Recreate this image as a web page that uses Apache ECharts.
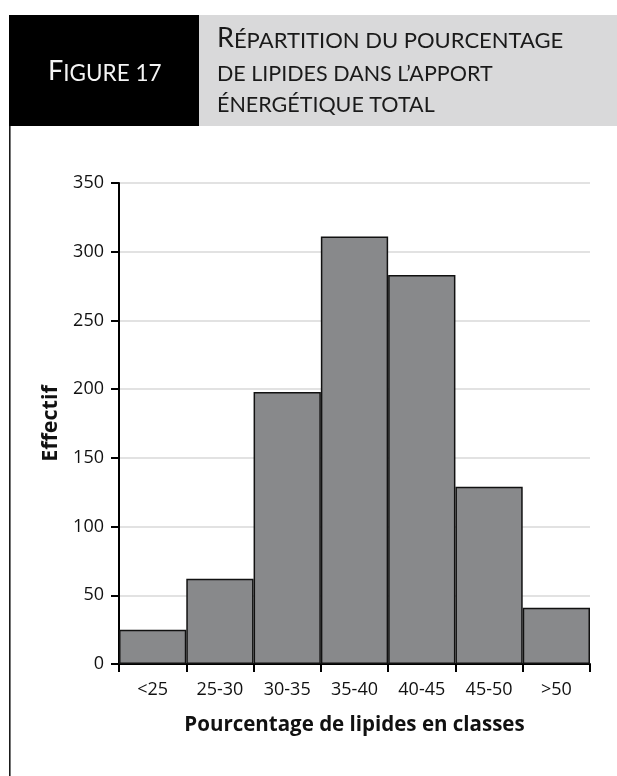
<!DOCTYPE html>
<html>
<head>
<meta charset="utf-8">
<script src="https://cdn.jsdelivr.net/npm/echarts@6/dist/echarts.min.js"></script>
<style>
html,body{margin:0;padding:0;background:#fff;}
#chart{width:617px;height:776px;}
</style>
</head>
<body>
<div id="chart"></div>
<script>
const categories = ['<25', '25-30', '30-35', '35-40', '40-45', '45-50', '>50'];
const effectif = [25, 62, 198, 311, 283, 129, 41];
const yTicks = { min: 0, max: 350, interval: 50 };
const xAxisName = 'Pourcentage de lipides en classes';
const yAxisName = 'Effectif';

const chart = echarts.init(document.getElementById('chart'), null, { renderer: 'canvas' });
const LBL = '"Open Sans", "DejaVu Sans", sans-serif';
const HEAD = 'Lato, "Open Sans", sans-serif';

chart.setOption({
  animation: false,
  backgroundColor: '#ffffff',
  graphic: [
    { type: 'rect', shape: { x: 9, y: 15, width: 190, height: 111 }, style: { fill: '#000000' }, silent: true },
    { type: 'rect', shape: { x: 199, y: 15, width: 418, height: 111 }, style: { fill: '#d9d9da' }, silent: true },
    { type: 'rect', shape: { x: 9, y: 126, width: 1.6, height: 650 }, style: { fill: '#1a1a1a' }, silent: true },
    {
      type: 'text', x: 48, y: 58, silent: true,
      style: {
        text: '{a|F}{b|IGURE 17}',
        fill: '#f4f4f4',
        rich: {
          a: { fontSize: 27, fontFamily: HEAD, fill: '#f4f4f4', color: '#f4f4f4', verticalAlign: 'bottom' },
          b: { fontSize: 22.5, fontFamily: HEAD, fill: '#f4f4f4', color: '#f4f4f4', verticalAlign: 'bottom' }
        }
      }
    },
    {
      type: 'text', x: 217, y: 25, silent: true,
      style: {
        text: '{a|R}{b|ÉPARTITION DU POURCENTAGE}',
        fill: '#1a1a1a',
        rich: {
          a: { fontSize: 27, fontFamily: HEAD, fill: '#1a1a1a', color: '#1a1a1a', verticalAlign: 'bottom' },
          b: { fontSize: 22, fontFamily: HEAD, fill: '#1a1a1a', color: '#1a1a1a', verticalAlign: 'bottom' }
        }
      }
    },
    {
      type: 'text', x: 217, y: 63, silent: true,
      style: { text: 'DE LIPIDES DANS L’APPORT', fill: '#1a1a1a', font: '21.5px ' + HEAD }
    },
    {
      type: 'text', x: 217, y: 94, silent: true,
      style: { text: 'ÉNERGÉTIQUE TOTAL', fill: '#1a1a1a', font: '21.5px ' + HEAD }
    }
  ],
  grid: { left: 119, right: 27, top: 183, bottom: 112, containLabel: false },
  xAxis: {
    type: 'category',
    data: categories,
    boundaryGap: true,
    name: xAxisName,
    nameLocation: 'middle',
    nameGap: 51,
    nameTextStyle: { fontFamily: LBL, fontSize: 20.5, fontWeight: 'bold', color: '#111' },
    axisLine: { show: true, lineStyle: { color: '#000', width: 2 } },
    axisTick: { show: true, alignWithLabel: false, inside: false, length: 8, lineStyle: { color: '#000', width: 2 } },
    axisLabel: { fontFamily: LBL, fontSize: 18, color: '#111', margin: 17 },
    splitLine: { show: false }
  },
  yAxis: {
    type: 'value',
    min: yTicks.min,
    max: yTicks.max,
    interval: yTicks.interval,
    name: yAxisName,
    nameLocation: 'middle',
    nameGap: 47,
    nameRotate: 90,
    nameTextStyle: { fontFamily: LBL, fontSize: 21.5, fontWeight: 'bold', color: '#111' },
    axisLine: { show: true, lineStyle: { color: '#000', width: 2 } },
    axisTick: { show: true, inside: false, length: 8, lineStyle: { color: '#000', width: 2 } },
    axisLabel: { fontFamily: LBL, fontSize: 18, color: '#111', margin: 15 },
    splitLine: { show: true, lineStyle: { color: '#d9d9d9', width: 1.5 } }
  },
  series: [{
    type: 'bar',
    data: effectif,
    barCategoryGap: '0%',
    itemStyle: { color: '#88898b', borderColor: '#111', borderWidth: 1.5 },
    emphasis: { disabled: true }
  }]
});
</script>
</body>
</html>
